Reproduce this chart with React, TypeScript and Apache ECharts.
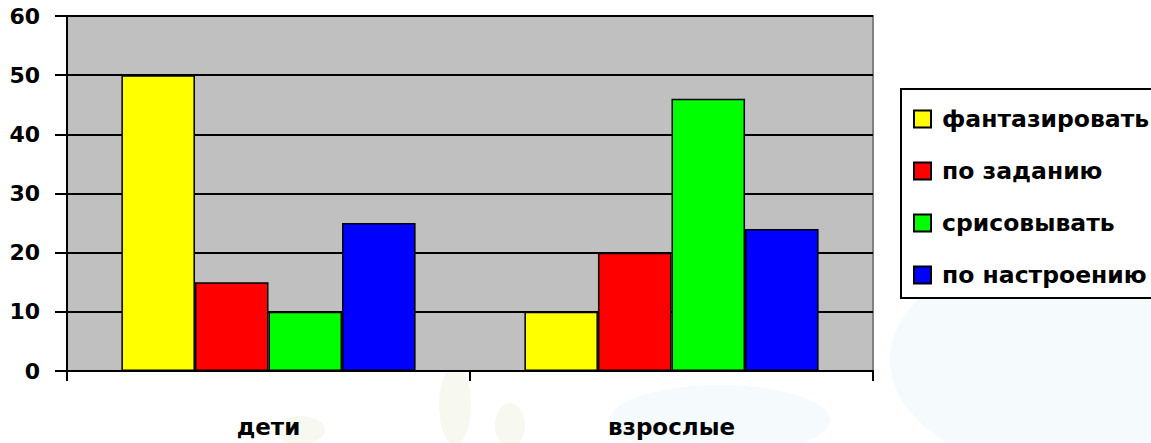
import React, { useEffect, useRef } from "react";
import * as echarts from "echarts";

const categories = ["дети", "взрослые"];
const seriesNames = ["фантазировать", "по заданию", "срисовывать", "по настроению"];
const fantasize = [50, 10];
const byTask = [15, 20];
const copying = [10, 46];
const byMood = [25, 24];
const seriesColors = ["#ffff00", "#ff0000", "#00ff00", "#0000ff"];
const yTicks = [0, 10, 20, 30, 40, 50, 60];

export default function App() {
  const ref = useRef<HTMLDivElement>(null);
  useEffect(() => {
    if (!ref.current) return;
    const chart = echarts.init(ref.current, undefined, { renderer: "svg" });
    const values = [fantasize, byTask, copying, byMood];
    const font = "'DejaVu Sans', Verdana, sans-serif";
    chart.setOption({
      animation: false,
      backgroundColor: "#ffffff",
      graphic: [
        { type: "ellipse", z: -10, shape: { cx: 1060, cy: 360, rx: 170, ry: 110 }, style: { fill: "#f5fafd" }, silent: true },
        { type: "ellipse", z: -10, shape: { cx: 720, cy: 420, rx: 110, ry: 35 }, style: { fill: "#f5fafd" }, silent: true },
        { type: "ellipse", z: -10, shape: { cx: 455, cy: 405, rx: 16, ry: 40 }, style: { fill: "#f7f9f0" }, silent: true },
        { type: "ellipse", z: -10, shape: { cx: 510, cy: 425, rx: 15, ry: 22 }, style: { fill: "#f7f9f0" }, silent: true },
        { type: "ellipse", z: -10, shape: { cx: 300, cy: 430, rx: 25, ry: 14 }, style: { fill: "#f7f9f0" }, silent: true },
      ],
      grid: {
        left: 67,
        top: 16,
        right: 327,
        bottom: 72,
        show: true,
        backgroundColor: "#c0c0c0",
        borderColor: "#808080",
        borderWidth: 2,
      },
      legend: {
        orient: "vertical",
        left: 901,
        top: 89,
        padding: [18, 40, 11, 12],
        itemGap: 28,
        itemWidth: 17,
        itemHeight: 17,
        icon: "rect",
        borderColor: "#000000",
        borderWidth: 2,
        backgroundColor: "#ffffff",
        textStyle: {
          fontFamily: font,
          fontWeight: "bold",
          fontSize: 23.5,
          lineHeight: 24,
          color: "#000000",
          padding: [0, 0, 0, 6],
        },
        data: seriesNames,
      },
      xAxis: {
        type: "category",
        data: categories,
        axisLine: { show: true, lineStyle: { color: "#000000", width: 2 } },
        axisTick: { show: true, length: 10, lineStyle: { color: "#000000", width: 2 } },
        axisLabel: {
          margin: 44,
          fontFamily: font,
          fontWeight: "bold",
          fontSize: 23,
          color: "#000000",
        },
        splitLine: { show: false },
      },
      yAxis: {
        type: "value",
        min: 0,
        max: 60,
        interval: 10,
        axisLine: { show: true, lineStyle: { color: "#000000", width: 2 } },
        axisTick: { show: true, length: 12, lineStyle: { color: "#000000", width: 2 } },
        axisLabel: {
          margin: 27,
          fontFamily: font,
          fontWeight: "bold",
          fontSize: 22,
          color: "#000000",
          formatter: (v: number) => (yTicks.includes(v) ? String(v) : ""),
        },
        splitLine: { show: true, lineStyle: { color: "#000000", width: 2 } },
      },
      series: seriesNames.map((name, i) => ({
        name,
        type: "bar",
        data: values[i],
        barGap: "0%",
        barCategoryGap: "27%",
        itemStyle: { color: seriesColors[i], borderColor: "#000000", borderWidth: 1.5 },
      })),
    });
    return () => chart.dispose();
  }, []);
  return (
    <div
      ref={ref}
      style={{ position: "fixed", left: 0, top: 0, width: 1200, height: 443 }}
    />
  );
}
